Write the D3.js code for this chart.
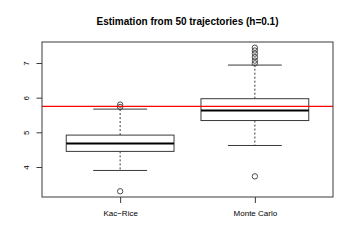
<!DOCTYPE html>
<html>
<head>
<meta charset="utf-8">
<script src="https://cdn.jsdelivr.net/npm/d3@7"></script>
<style>
  body { margin: 0; background: #fff; }
  text { font-family: "Liberation Sans", Arial, sans-serif; fill: #000; }
</style>
</head>
<body>
<svg id="chart"></svg>
<script>
// box statistics
const categories = ["Kac\u2212Rice", "Monte Carlo"];
const whiskerLow = [3.90, 4.62];
const q1 = [4.45, 5.34];
const median = [4.68, 5.63];
const q3 = [4.92, 5.97];
const whiskerHigh = [5.67, 6.94];
const outliers = [
  [3.30, 5.73, 5.80],
  [3.73, 6.99, 7.07, 7.17, 7.27, 7.36, 7.44]
];
const refLine = 5.75;
const yTicks = [4, 5, 6, 7];
const title = "Estimation from 50 trajectories (h=0.1)";

const config = {
  width: 354, height: 250,
  margin: { top: 42, right: 21, bottom: 53, left: 42 }
};

const svg = d3.select("#chart")
  .attr("width", config.width)
  .attr("height", config.height);

const w = config.width - config.margin.left - config.margin.right;
const h = config.height - config.margin.top - config.margin.bottom;

const g = svg.append("g")
  .attr("transform", `translate(${config.margin.left},${config.margin.top})`);

// R style 4% padding on both axes
const allVals = whiskerLow.concat(whiskerHigh, outliers.flat());
const lo = d3.min(allVals), hi = d3.max(allVals);
const pad = (hi - lo) * 0.04;
const yScale = d3.scaleLinear().domain([lo - pad, hi + pad]).range([h, 0]);
const xScale = d3.scaleLinear().domain([0.42, 2.58]).range([0, w]);

const boxW = 0.8, stapleW = 0.4;
const ink = "#3a3a3a";

g.append("defs").append("clipPath").attr("id", "clip")
  .append("rect").attr("width", w).attr("height", h);

// boxes
categories.forEach((c, i) => {
  const pos = i + 1;
  const cx = xScale(pos);
  const grp = g.append("g");
  // dashed whiskers
  grp.append("line")
    .attr("x1", cx).attr("x2", cx)
    .attr("y1", yScale(q3[i])).attr("y2", yScale(whiskerHigh[i]))
    .attr("stroke", ink).attr("stroke-dasharray", "2,2");
  grp.append("line")
    .attr("x1", cx).attr("x2", cx)
    .attr("y1", yScale(q1[i])).attr("y2", yScale(whiskerLow[i]))
    .attr("stroke", ink).attr("stroke-dasharray", "2,2");
  // staples
  [whiskerLow[i], whiskerHigh[i]].forEach(v => {
    grp.append("line")
      .attr("x1", xScale(pos - stapleW / 2)).attr("x2", xScale(pos + stapleW / 2))
      .attr("y1", yScale(v)).attr("y2", yScale(v))
      .attr("stroke", ink);
  });
  // box
  grp.append("rect")
    .attr("x", xScale(pos - boxW / 2))
    .attr("y", yScale(q3[i]))
    .attr("width", xScale(pos + boxW / 2) - xScale(pos - boxW / 2))
    .attr("height", yScale(q1[i]) - yScale(q3[i]))
    .attr("fill", "none").attr("stroke", ink);
  // median
  grp.append("line")
    .attr("x1", xScale(pos - boxW / 2)).attr("x2", xScale(pos + boxW / 2))
    .attr("y1", yScale(median[i])).attr("y2", yScale(median[i]))
    .attr("stroke", "#000").attr("stroke-width", 2);
  // outliers
  grp.selectAll("circle")
    .data(outliers[i])
    .join("circle")
    .attr("cx", cx)
    .attr("cy", d => yScale(d))
    .attr("r", 2.7)
    .attr("fill", "none")
    .attr("stroke", ink)
    .attr("stroke-width", 0.9);
});

// reference line
g.append("line")
  .attr("clip-path", "url(#clip)")
  .attr("x1", 0).attr("x2", w)
  .attr("y1", yScale(refLine)).attr("y2", yScale(refLine))
  .attr("stroke", "#ff0000").attr("stroke-width", 1.3);

// axes
const yAxis = d3.axisLeft(yScale).tickValues(yTicks)
  .tickFormat(d3.format("d")).tickSize(5.5).tickSizeOuter(0);
const yAxisGroup = g.append("g").call(yAxis);
yAxisGroup.select(".domain").remove();
yAxisGroup.selectAll("line").attr("stroke", ink);
yAxisGroup.selectAll("text")
  .attr("transform", "rotate(-90)")
  .attr("x", 0).attr("y", -12.7).attr("dy", 0)
  .style("text-anchor", "middle")
  .style("font-size", "8px");

const xAxis = d3.axisBottom(xScale).tickValues([1, 2])
  .tickFormat(d => categories[d - 1]).tickSize(6).tickSizeOuter(0);
const xAxisGroup = g.append("g")
  .attr("transform", `translate(0,${h})`)
  .call(xAxis);
xAxisGroup.select(".domain").remove();
xAxisGroup.selectAll("line").attr("stroke", ink);
xAxisGroup.selectAll("text")
  .attr("y", 19).attr("dy", 0)
  .style("font-size", "8px");

// frame
g.append("rect")
  .attr("width", w).attr("height", h)
  .attr("fill", "none").attr("stroke", ink);

// title
svg.append("text")
  .attr("x", config.margin.left + w / 2)
  .attr("y", 25)
  .style("text-anchor", "middle")
  .style("font-size", "10px")
  .style("font-weight", "bold")
  .text(title);
</script>
</body>
</html>
